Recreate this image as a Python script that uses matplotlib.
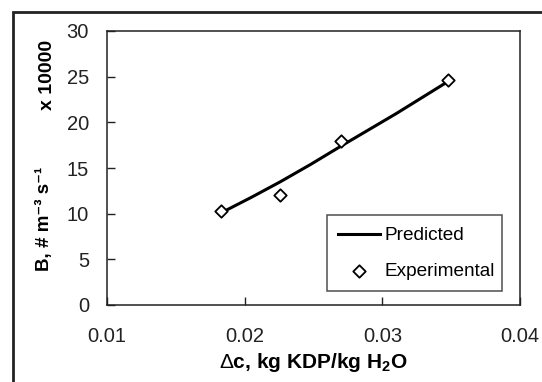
import matplotlib
matplotlib.use("Agg")
import matplotlib.pyplot as plt
from matplotlib.patches import Rectangle

# Data (B in units of 10000)
dc_exp = [0.0183, 0.0226, 0.0270, 0.0348]
b_exp = [10.25, 12.0, 18.0, 24.65]

dc_pred = [0.0183, 0.0205, 0.0226, 0.0248, 0.0270, 0.0310, 0.0348]
b_pred = [10.1, 11.8, 13.5, 15.4, 17.4, 20.95, 24.5]

x_ticks = [0.01, 0.02, 0.03, 0.04]
x_tick_labels = ["0.01", "0.02", "0.03", "0.04"]
y_ticks = [0, 5, 10, 15, 20, 25, 30]

plt.rcParams["font.family"] = ["Liberation Sans", "DejaVu Sans"]
plt.rcParams["mathtext.fontset"] = "custom"
plt.rcParams["mathtext.rm"] = "Liberation Sans"
plt.rcParams["mathtext.bf"] = "Liberation Sans:bold"

W, H = 542, 382
fig = plt.figure(figsize=(W / 100, H / 100), dpi=100)
ax = fig.add_axes([107 / W, 1 - 305 / H, (520 - 107) / W, (305 - 31) / H])

ax.plot(dc_pred, b_pred, color="black", lw=2.2, label="Predicted",
        solid_joinstyle="round", zorder=2)
ax.scatter(dc_exp, b_exp, marker="D", s=40, facecolors="white",
           edgecolors="black", linewidths=1.3, label="Experimental", zorder=3)

ax.set_xlim(0.01, 0.04)
ax.set_ylim(0, 30)
ax.set_xticks(x_ticks)
ax.set_xticklabels(x_tick_labels)
ax.set_yticks(y_ticks)
ax.tick_params(direction="in", length=6, width=1, labelsize=14.5, colors="#222222")
ax.tick_params(axis="x", pad=16)
ax.tick_params(axis="y", pad=13)
for s in ax.spines.values():
    s.set_linewidth(1.1)
    s.set_color("#222222")

# Axis titles
fig.text(313 / W, 1 - 362 / H, r"$\Delta$c, kg KDP/kg H$_\mathbf{2}$O",
         ha="center", va="center", fontsize=15, fontweight="bold")
fig.text(44 / W, 1 - 219 / H, "B, # m\u207b\u00b3 s\u207b\u00b9",
         ha="center", va="center", rotation=90, fontsize=13.5, fontweight="bold")
fig.text(48 / W, 1 - 75 / H, "x 10000", ha="center", va="center",
         rotation=90, fontsize=14, fontweight="bold")

leg = ax.legend(loc="lower left", bbox_to_anchor=(327 / W, 1 - 291 / H, 175 / W, 78 / H),
                bbox_transform=fig.transFigure, mode="expand", fontsize=13.7,
                fancybox=False, frameon=True, handlelength=2.2, handletextpad=0.2,
                labelspacing=0.95, borderpad=0.6, borderaxespad=0)
leg.get_frame().set_edgecolor("#222222")
leg.get_frame().set_linewidth(1.1)

# Outer chart border
fig.patches.append(Rectangle((13 / W, -0.2), 1.2, 1 - 12 / H + 0.2,
                             transform=fig.transFigure, fill=False,
                             edgecolor="#222222", linewidth=2))

fig.savefig("out.png", dpi=100)
